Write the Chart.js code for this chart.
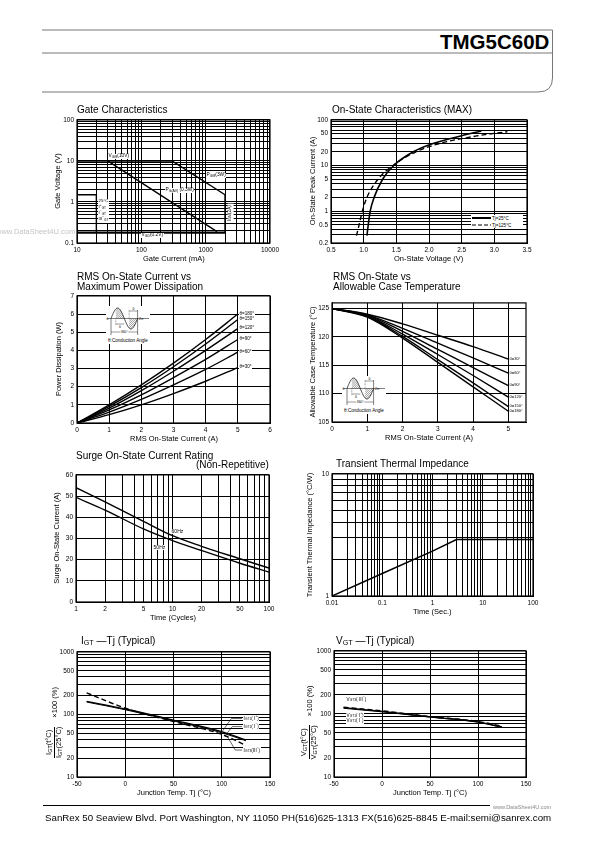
<!DOCTYPE html>
<html><head><meta charset="utf-8">
<script src="https://cdn.jsdelivr.net/npm/chart.js@4.4.1/dist/chart.umd.min.js"></script>
<style>
html,body{margin:0;padding:0;background:#fff}
#page{position:relative;width:595px;height:842px;overflow:hidden;font-family:"Liberation Sans",Arial,sans-serif;color:#000;background:#fff}
canvas{position:absolute}
.t{position:absolute;white-space:nowrap;line-height:1.05}
svg{position:absolute}
</style></head><body><div id="page"></div>
<script>
// ---------- data ----------
// gate characteristics, mA / V (log-log)
const gateGridX = [10,20,30,40,50,60,70,80,90,100,200,300,400,500,600,700,800,900,1000,2000,3000,4000,5000,6000,7000,8000,9000,10000];
const gateGridY = [0.1,0.2,0.3,0.4,0.5,0.6,0.7,0.8,0.9,1,2,3,4,5,6,7,8,9,10,20,30,40,50,60,70,80,90,100];
const gateLabX = [10,100,1000,10000];
const gateLabY = [0.1,1,10,100];
const vgmLine = [[10,10],[300,10]];
const pgmLine = [[300,10],[2000,1.5]];
const igmLine = [[2000,1.5],[2000,0.18]];
const pgavLine = [[30,10],[1500,0.19]];
const vgdLine = [[10,0.18],[2000,0.18]];
const gtBox = [[10,1.5],[20,1.5],[20,0.18]];

// on-state characteristics
const onGridX = [0.5,1,1.5,2,2.5,3,3.5];
const onGridY = [0.2,0.3,0.4,0.5,0.6,0.7,0.8,0.9,1,2,3,4,5,6,7,8,9,10,20,30,40,50,60,70,80,90,100];
const onLabY = [0.2,0.5,1,2,5,10,20,50,100];
const on25V  = [1.05,1.07,1.10,1.16,1.29,1.46,1.76,2.05,2.5,2.8];
const on25I  = [0.29,0.5,1,2,5,10,20,30,45,57];
const on125V = [0.89,0.93,0.98,1.05,1.22,1.45,1.80,2.15,2.75,3.2];
const on125I = [0.29,0.5,1,2,5,10,20,30,45,55];

// RMS current vs power dissipation
const rmsI = [0,1,2,3,4,5];
const pw180 = [0,1.0,2.1,3.3,4.6,6.0];
const pw150 = [0,0.92,1.95,3.1,4.35,5.7];
const pw120 = [0,0.82,1.78,2.85,4.0,5.2];
const pw90  = [0,0.72,1.55,2.5,3.5,4.6];
const pw60  = [0,0.6,1.3,2.1,2.95,3.9];
const pw30  = [0,0.46,1.0,1.62,2.3,3.05];
const angleNames = ['180','150','120','90','60','30'];

// RMS current vs allowable case temperature
const tc30  = [125,124.0,122.3,120.3,118.3,116.1];
const tc60  = [125,123.9,121.5,118.9,116.3,113.6];
const tc90  = [125,123.8,121.0,117.8,114.6,111.4];
const tc120 = [125,123.7,120.5,116.9,113.2,109.4];
const tc150 = [125,123.6,120.1,116.0,111.9,107.7];
const tc180 = [125,123.5,119.8,115.5,111.2,106.9];

// surge on-state current
const cycGrid = [1,2,3,4,5,6,7,8,9,10,20,30,40,50,60,70,80,90,100];
const cycLab = [1,2,5,10,20,50,100];
const cycles = [1,2,5,10,20,50,100];
const surge60 = [54,47.3,38.1,31.3,26.3,20.4,16.0];
const surge50 = [49.4,43.4,34.5,29.0,24.3,18.3,14.1];

// transient thermal impedance
const timeGrid = [0.01,0.02,0.03,0.04,0.05,0.06,0.07,0.08,0.09,0.1,0.2,0.3,0.4,0.5,0.6,0.7,0.8,0.9,1,2,3,4,5,6,7,8,9,10,20,30,40,50,60,70,80,90,100];
const timeLab = [0.01,0.1,1,10,100];
const zthGrid = [1,2,3,4,5,6,7,8,9,10];
const zthT = [0.01,0.1,1,3,100];
const zthZ = [1,1.53,2.33,2.9,2.9];

// IGT / VGT vs Tj
const tjGrid = [-50,0,50,100,150];
const pctGrid = [10,20,30,40,50,60,70,80,90,100,200,300,400,500,600,700,800,900,1000];
const pctLab = [10,20,50,100,200,500,1000];
const tj = [-40,0,50,100,125];
const igtIp = [162,122,81,53,39];
const igtIm = [158,119,79,51,38];
const igtIII = [221,126,77,48,32];
const vgtIp = [126,110,90,75,62];
const vgtIm = [123,108,89,74,61];
const vgtIII = [128,112,91,76,64];
const igtLeadIp = [[101,55],[110,86],[121,86]];
const igtLeadIm = [[105,49],[111,64],[121,64]];
const igtLeadIII = [[106,44],[114,27],[121,27]];

// ---------- helpers ----------
Chart.defaults.font.family = '"Liberation Sans", Arial, sans-serif';
Chart.defaults.color = '#000';
const page = document.getElementById('page');
const sub = s => `<span style="font-size:72%;vertical-align:-0.2em">${s}</span>`;
const sup = s => `<sup style="font-size:70%">${s}</sup>`;

// place an element centred (or aligned) on x,y; rotated ones get even-parity boxes so they stay pixel-sharp
function put(d, x, y, o){
  const b=d.getBoundingClientRect();
  let w=Math.ceil(b.width), h=Math.ceil(b.height);
  if(o.rot){ if((w-h)%2) w++; d.style.width=w+'px'; d.style.height=h+'px'; d.style.textAlign='center'; }
  const dx=o.rot?w/2:(o.align==='c'?w/2:o.align==='r'?w:0);
  d.style.left=Math.round(x-dx)+'px'; d.style.top=Math.round(y-h/2)+'px';
  if(o.rot) d.style.transform=`rotate(${o.rot}deg)`;
}
function txt(s, x, y, o={}){
  const d=document.createElement('div'); d.className='t'; d.innerHTML=s;
  d.style.fontSize=(o.size||7.5)+'px';
  if(o.bold) d.style.fontWeight='bold';
  if(o.bg) { d.style.background='#fff'; d.style.padding='0 0.6px'; }
  if(o.color) d.style.color=o.color;
  if(o.lh) d.style.lineHeight=o.lh;
  page.appendChild(d); put(d,x,y,o);
  return d;
}
const pts = (xs, ys) => xs.map((x,i)=>({x, y:ys[i]}));
const pairs = a => a.map(p=>({x:p[0], y:p[1]}));
function line(data, o={}){
  return {data, borderColor:'#000', borderWidth:o.w||1.4, borderDash:o.dash||[], tension:o.tension||0,
    cubicInterpolationMode:o.tension?'monotone':'default', pointRadius:0, fill:false};
}

const framePlugin={id:'frame', afterDatasetsDraw(c){
  const a=c.chartArea, x=c.ctx; x.save(); x.strokeStyle='#000'; x.lineWidth=1.2;
  x.strokeRect(a.left,a.top,a.right-a.left,a.bottom-a.top); x.restore();
}};

function makeChart(r, o){
  const padL=34, padT=6, padR=12, padB=20;
  const cv=document.createElement('canvas');
  const W=r.r-r.l, H=r.b-r.t;
  cv.width=W+padL+padR; cv.height=H+padT+padB;
  cv.style.left=(r.l-padL)+'px'; cv.style.top=(r.t-padT)+'px';
  page.appendChild(cv);
  const axis=(a,isX)=>({
    type:a.type||'linear', min:a.min, max:a.max,
    grid:{color:'#000', lineWidth:1, drawTicks:false},
    border:{display:true, color:'#000', width:1},
    ticks:{autoSkip:false, maxRotation:0, minRotation:0, padding:3, font:{size:6.5},
      callback:v => (a.labels||a.grid).includes(v) ? (a.fmt?a.fmt(v):String(v)) : ''},
    afterBuildTicks:s=>{ s.ticks=a.grid.map(v=>({value:v})); },
    afterFit:s=>{ if(isX) s.height=padB; else s.width=padL; }
  });
  const ch=new Chart(cv,{type:'line', data:{datasets:o.datasets},
    options:{responsive:false, animation:false, devicePixelRatio:1,
      layout:{padding:{top:padT,right:padR,left:0,bottom:0}},
      plugins:{legend:{display:false}, tooltip:{enabled:false}},
      scales:{x:axis(o.x,true), y:axis(o.y,false)}},
    plugins:[framePlugin]});
  ch.at=(x,y)=>[r.l-padL+ch.scales.x.getPixelForValue(x), r.t-padT+ch.scales.y.getPixelForValue(y)];
  return ch;
}
function lab(ch, x, y, s, o={}){ const p=ch.at(x,y); return txt(s,p[0],p[1],Object.assign({size:4.8,bg:true,align:'c',lh:1},o)); }
function xTitle(r, s){ txt(s,(r.l+r.r)/2,r.b+16,{align:'c',size:7.5}); }
function yTitle(r, s, x){ txt(s,x,(r.t+r.b)/2,{rot:-90,size:7.5}); }
const TS=10;

let insetN=0;
function inset(left, top){
  const id='h'+(insetN++); const ax=12.5, x0=5, x1=31.6, A=10.5;
  const P=t=>[x0+t*(x1-x0), ax-A*Math.sin(t*2*Math.PI)];
  let wave=''; for(let i=0;i<=48;i++){const p=P(i/48); wave+=(i?'L':'M')+p[0].toFixed(2)+','+p[1].toFixed(2);}
  const seg=(a,b)=>{let s=''; for(let i=0;i<=14;i++){const p=P(a+(b-a)*i/14); s+=(i?'L':'M')+p[0].toFixed(2)+','+p[1].toFixed(2);}
    return s+`L${P(b)[0].toFixed(2)},${ax}L${P(a)[0].toFixed(2)},${ax}Z`;};
  const svg=`<svg width="44" height="38" viewBox="0 0 44 38" style="left:${left}px;top:${top}px">
  <defs><pattern id="${id}" width="1.5" height="1.5" patternUnits="userSpaceOnUse" patternTransform="rotate(45)"><line x1="0" y1="0" x2="0" y2="1.5" stroke="#000" stroke-width="0.55"/></pattern></defs>
  <rect x="0" y="0" width="44" height="38" fill="#fff"/>
  <line x1="1" y1="${ax}" x2="43" y2="${ax}" stroke="#000" stroke-width="0.5"/>
  <path d="${seg(0.18,0.5)}" fill="url(#${id})" stroke="none"/>
  <path d="${seg(0.68,1)}" fill="url(#${id})" stroke="none"/>
  <path d="${wave}" fill="none" stroke="#000" stroke-width="0.7"/>
  <line x1="${x0}" y1="${ax}" x2="${x0}" y2="29" stroke="#000" stroke-width="0.5"/>
  <line x1="${x1}" y1="4" x2="${x1}" y2="29" stroke="#000" stroke-width="0.5"/>
  <line x1="${P(0.68)[0]}" y1="4" x2="${P(0.68)[0]}" y2="${ax}" stroke="#000" stroke-width="0.4" stroke-dasharray="0.8,0.6"/>
  <line x1="${P(0.68)[0]}" y1="5" x2="${x1}" y2="5" stroke="#000" stroke-width="0.4"/>
  <line x1="${P(0.18)[0]}" y1="${ax}" x2="${P(0.18)[0]}" y2="19" stroke="#000" stroke-width="0.4" stroke-dasharray="0.8,0.6"/>
  <line x1="${P(0.18)[0]}" y1="18" x2="${P(0.5)[0]}" y2="18" stroke="#000" stroke-width="0.4"/>
  <line x1="${x0}" y1="26" x2="${x1}" y2="26" stroke="#000" stroke-width="0.4"/>
  <rect x="${(x0+x1)/2-4}" y="24" width="8" height="4" fill="#fff"/>
  <text x="${(x0+x1)/2}" y="27.3" font-size="3.4" text-anchor="middle" font-family="Liberation Sans">360°</text>
  <text x="0.6" y="${ax+1.2}" font-size="3.4" font-family="Liberation Sans">0</text>
  <text x="33" y="${ax+1.2}" font-size="3.4" font-family="Liberation Sans">2π</text>
  <text x="${(P(0.68)[0]+x1)/2}" y="4" font-size="3.4" text-anchor="middle" font-family="Liberation Sans">θ</text>
  <text x="${(P(0.18)[0]+P(0.5)[0])/2}" y="21.5" font-size="3.4" text-anchor="middle" font-family="Liberation Sans">θ</text>
  <text x="22" y="35.5" font-size="4.6" text-anchor="middle" font-family="Liberation Sans">θ:Conduction Angle</text>
  </svg>`;
  page.insertAdjacentHTML('beforeend', svg);
}

// ---------- page frame ----------
page.insertAdjacentHTML('beforeend',
 `<svg width="595" height="100" style="left:0;top:0">
   <line x1="42" y1="30" x2="552.5" y2="30" stroke="#777" stroke-width="1"/>
   <line x1="42" y1="53" x2="552.5" y2="53" stroke="#777" stroke-width="1"/>
   <path d="M552.5,30 V78 Q552.5,92 538,92 H42" fill="none" stroke="#777" stroke-width="1"/>
  </svg>`);
txt('TMG5C60D', 550, 41.5, {align:'r', size:20.5, bold:true});

// ---------- 1 gate characteristics ----------
const R1={l:77,t:119,r:270,b:243};
const c1=makeChart(R1,{
  x:{type:'logarithmic',min:10,max:10000,grid:gateGridX,labels:gateLabX},
  y:{type:'logarithmic',min:0.1,max:100,grid:gateGridY,labels:gateLabY},
  datasets:[line(pairs(vgmLine)),line(pairs(pgmLine)),line(pairs(igmLine)),line(pairs(pgavLine)),
    line(pairs(vgdLine),{w:2.2}),line(pairs(gtBox))]
});
txt('Gate Characteristics',R1.l,110,{size:TS});
xTitle(R1,'Gate Current (mA)'); yTitle(R1,'Gate Voltage (V)',58);
lab(c1,45,12.8,'V'+sub('GM')+'(10V)');
lab(c1,1450,4.2,'P'+sub('GM')+'(3W)');
lab(c1,400,1.8,'P'+sub('G(AV)')+' (0.3W)');
lab(c1,2350,0.53,'I'+sub('GM')+'(2A)',{rot:-90});
lab(c1,150,0.145,'V'+sub('GD')+'(0.2V)');
lab(c1,21.5,0.6,'25°C<br>I'+sup('+')+sub('GT')+'<br>I'+sup('−')+sub('GT')+'<br>III'+sup('−')+sub('GT'),{size:4.4,align:'l',lh:1.05});
txt('www.DataSheet4U.com',-4,232,{size:7.5,color:'#c4c4c4'});

// ---------- 2 on-state characteristics ----------
const R2={l:331,t:119,r:527,b:243};
const c2=makeChart(R2,{
  x:{min:0.5,max:3.5,grid:onGridX,fmt:v=>v.toFixed(1)},
  y:{type:'logarithmic',min:0.2,max:100,grid:onGridY,labels:onLabY},
  datasets:[line(pts(on25V,on25I),{w:1.6,tension:0.4}),line(pts(on125V,on125I),{w:1.4,tension:0.4,dash:[5,3]})]
});
txt('On-State Characteristics (MAX)',R2.l+1,110,{size:TS});
xTitle(R2,'On-State Voltage (V)'); yTitle(R2,'On-State Peak Current (A)',313);
page.insertAdjacentHTML('beforeend',
 `<svg width="52" height="13" style="left:471px;top:214.5px">
   <rect width="52" height="13" fill="#fff"/>
   <line x1="1" y1="3" x2="20" y2="3" stroke="#000" stroke-width="2"/>
   <line x1="1" y1="10" x2="20" y2="10" stroke="#000" stroke-width="1.2" stroke-dasharray="4,2"/>
   <text x="21" y="4.6" font-size="4.6" font-family="Liberation Sans">Tj=25°C</text>
   <text x="21" y="11.6" font-size="4.6" font-family="Liberation Sans">Tj=125°C</text>
  </svg>`);

// ---------- 3 RMS current vs power dissipation ----------
const R3={l:77,t:295,r:270,b:423};
const pwSets=[pw180,pw150,pw120,pw90,pw60,pw30];
const c3=makeChart(R3,{
  x:{min:0,max:6,grid:[0,1,2,3,4,5,6]},
  y:{min:0,max:7,grid:[0,1,2,3,4,5,6,7]},
  datasets:pwSets.map(s=>line(pts(rmsI,s),{tension:0.3}))
});
txt('RMS On-State Current vs',R3.l,277,{size:TS});
txt('Maximum Power Dissipation',R3.l,287.5,{size:TS});
xTitle(R3,'RMS On-State Current (A)'); yTitle(R3,'Power Dissipation (W)',59);
pwSets.forEach((s,i)=>lab(c3,5.05,s[5],'θ='+angleNames[i]+'°',{align:'l',size:4.5}));
inset(106,306);

// ---------- 4 RMS current vs allowable case temperature ----------
const R4={l:332,t:302,r:526,b:422};
const tcSets=[tc30,tc60,tc90,tc120,tc150,tc180];
const c4=makeChart(R4,{
  x:{min:0,max:5.5,grid:[0,1,2,3,4,5]},
  y:{min:105,max:126,grid:[105,110,115,120,125]},
  datasets:tcSets.map(s=>line(pts(rmsI,s),{tension:0.3}))
});
txt('RMS On-State vs',R4.l+1,277,{size:TS});
txt('Allowable Case Temperature',R4.l+1,287.5,{size:TS});
xTitle(R4,'RMS On-State Current (A)'); yTitle(R4,'Allowable Case Temperature (°C)',313);
tcSets.forEach((s,i)=>lab(c4,5.02,s[5],'θ='+angleNames[5-i]+'°',{align:'l',size:4.1}));
inset(342,376);

// ---------- 5 surge on-state current ----------
const R5={l:76,t:474,r:269,b:602};
const c5=makeChart(R5,{
  x:{type:'logarithmic',min:1,max:100,grid:cycGrid,labels:cycLab},
  y:{min:0,max:60,grid:[0,10,20,30,40,50,60]},
  datasets:[line(pts(cycles,surge60),{tension:0.3}),line(pts(cycles,surge50),{tension:0.3})]
});
txt('Surge On-State Current Rating',R5.l,456,{size:TS});
txt('(Non-Repetitive)',R5.r,465.5,{size:TS,align:'r'});
xTitle(R5,'Time (Cycles)'); yTitle(R5,'Surge On-State Current (A)',57);
lab(c5,11.2,33.3,'60Hz',{size:5});
lab(c5,7.4,25.8,'50Hz',{size:5});

// ---------- 6 transient thermal impedance ----------
const R6={l:332,t:473,r:533,b:596};
const c6=makeChart(R6,{
  x:{type:'logarithmic',min:0.01,max:100,grid:timeGrid,labels:timeLab},
  y:{type:'logarithmic',min:1,max:10,grid:zthGrid,labels:[1,10]},
  datasets:[line(pts(zthT,zthZ),{w:1.5})]
});
txt('Transient Thermal Impedance',R6.l+4,464,{size:TS});
xTitle(R6,'Time (Sec.)'); yTitle(R6,'Transient Thermal Impedance (°C/W)',310);

// ---------- 7 IGT - Tj ----------
const R7={l:77,t:651,r:270,b:777};
const c7=makeChart(R7,{
  x:{min:-50,max:150,grid:tjGrid},
  y:{type:'logarithmic',min:10,max:1000,grid:pctGrid,labels:pctLab},
  datasets:[line(pts(tj,igtIp),{tension:0.3}),line(pts(tj,igtIm),{tension:0.3,w:1}),
    line(pts(tj,igtIII),{tension:0.3,dash:[5,3]}),
    line(pairs(igtLeadIp),{w:0.6}),line(pairs(igtLeadIm),{w:0.6}),line(pairs(igtLeadIII),{w:0.6})]
});
txt('I'+sub('GT')+' —Tj (Typical)',R7.l+4,641.5,{size:TS});
xTitle(R7,'Junction Temp. Tj (°C)');
lab(c7,122,86,'I'+sub('GT1')+'( I'+sup('+')+')',{size:4.6,align:'l'});
lab(c7,122,64,'I'+sub('GT1')+'( I'+sup('−')+')',{size:4.6,align:'l'});
lab(c7,122,27,'I'+sub('GT3')+'(III'+sup('−')+')',{size:4.6,align:'l'});

// ---------- 8 VGT - Tj ----------
const R8={l:334,t:650,r:526,b:777};
const c8=makeChart(R8,{
  x:{min:-50,max:150,grid:tjGrid},
  y:{type:'logarithmic',min:10,max:1000,grid:pctGrid,labels:pctLab},
  datasets:[line(pts(tj,vgtIp),{tension:0.3}),line(pts(tj,vgtIm),{tension:0.3,w:1}),
    line(pts(tj,vgtIII),{tension:0.3,dash:[5,3]})]
});
txt('V'+sub('GT')+' —Tj (Typical)',R8.l+2,641.5,{size:TS});
xTitle(R8,'Junction Temp. Tj (°C)');
lab(c8,-38,170,'V'+sub('GT3')+'( III'+sup('−')+')',{size:4.6,align:'l'});
lab(c8,-38,96,'V'+sub('GT1')+'( I'+sup('+')+')',{size:4.6,align:'l'});
lab(c8,-38,80,'V'+sub('GT1')+'( I'+sup('−')+')',{size:4.6,align:'l'});

// fraction-style y titles for charts 7 and 8
function fracTitle(cx, cy, sym){
  const d=document.createElement('div'); d.className='t';
  d.style.cssText='font-size:7.5px;display:flex;align-items:center;justify-content:center;gap:9px';
  d.innerHTML=`<div style="display:flex;flex-direction:column;align-items:center">
     <span>${sym}${sub('GT')}(t°C)</span>
     <span style="border-top:0.8px solid #000;padding-top:0.5px">${sym}${sub('GT')}(25°C)</span></div>
     <span>×100 (%)</span>`;
  page.appendChild(d); put(d,cx,cy,{rot:-90});
}
fracTitle(54,722,'I');
fracTitle(309,722,'V');

// ---------- footer ----------
page.insertAdjacentHTML('beforeend',
 `<svg width="595" height="20" style="left:0;top:798px"><line x1="43" y1="7.5" x2="490" y2="7.5" stroke="#000" stroke-width="1"/></svg>`);
txt('www.DataSheet4U.com',552,807.5,{align:'r',size:5.5,color:'#888'});
const foot=txt('SanRex 50 Seaview Blvd. Port Washington, NY 11050 PH(516)625-1313 FX(516)625-8845 E-mail:semi@sanrex.com',45,818.5,{size:10});
const fw=foot.getBoundingClientRect().width;
foot.style.fontSize=(10*507/fw)+'px';
</script></body></html>
